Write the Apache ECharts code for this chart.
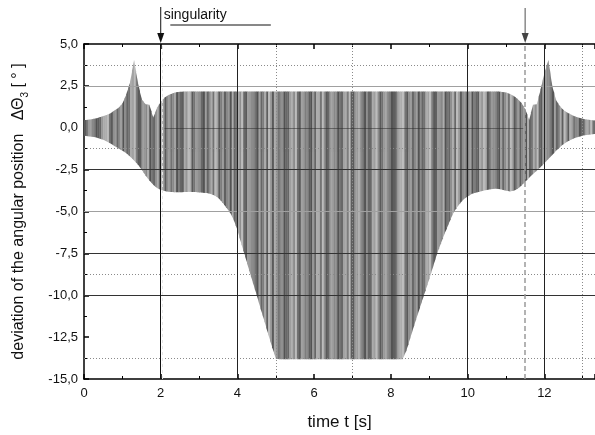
<!DOCTYPE html>
<html><head><meta charset="utf-8">
<script src="https://cdn.jsdelivr.net/npm/echarts@6/dist/echarts.min.js"></script>
<style>html,body{margin:0;padding:0;background:#fff}#c{width:595px;height:435px}</style>
</head><body><div id="c"></div><script>
// ---- data (time in s, envelope of the oscillation in degrees) ----
const timeS = [0.0,0.1,0.2,0.3,0.4,0.5,0.6,0.7,0.8,0.9,1.0,1.1,1.2,1.3,1.4,1.5,1.6,1.7,1.8,1.9,
2.0,2.1,2.2,2.3,2.4,2.5,2.6,2.7,2.8,2.9,3.0,3.1,3.2,3.3,3.4,3.5,3.6,3.7,3.8,3.9,
4.0,4.1,4.2,4.3,4.4,4.5,4.6,4.7,4.8,4.9,5.0,5.1,5.2,5.3,5.4,5.5,5.6,5.7,5.8,5.9,
6.0,6.1,6.2,6.3,6.4,6.5,6.6,6.7,6.8,6.9,7.0,7.1,7.2,7.3,7.4,7.5,7.6,7.7,7.8,7.9,
8.0,8.1,8.2,8.3,8.4,8.5,8.6,8.7,8.8,8.9,9.0,9.1,9.2,9.3,9.4,9.5,9.6,9.7,9.8,9.9,
10.0,10.1,10.2,10.3,10.4,10.5,10.6,10.7,10.8,10.9,11.0,11.1,11.2,11.3,11.4,11.5,11.6,11.7,11.8,11.9,
12.0,12.1,12.2,12.3,12.4,12.5,12.6,12.7,12.8,12.9,13.0,13.1,13.2,13.3];
const upperDeg = [0.46,0.48,0.51,0.55,0.62,0.70,0.77,0.88,1.05,1.20,1.45,2.00,2.75,4.05,2.70,1.70,1.40,1.38,0.60,1.20,
1.55,1.80,1.95,2.05,2.12,2.15,2.16,2.17,2.17,2.17,2.17,2.17,2.17,2.17,2.17,2.17,2.17,2.17,2.17,2.17,
2.17,2.17,2.17,2.17,2.17,2.17,2.17,2.17,2.17,2.17,2.17,2.17,2.17,2.17,2.17,2.17,2.17,2.17,2.17,2.17,
2.17,2.17,2.17,2.17,2.17,2.17,2.17,2.17,2.17,2.17,2.17,2.17,2.17,2.17,2.17,2.17,2.17,2.17,2.17,2.17,
2.17,2.17,2.17,2.17,2.17,2.17,2.17,2.17,2.17,2.17,2.17,2.17,2.17,2.17,2.17,2.17,2.17,2.17,2.17,2.17,
2.17,2.17,2.17,2.17,2.17,2.17,2.17,2.17,2.16,2.14,2.10,2.02,1.90,1.72,1.48,1.10,0.45,1.38,1.40,2.30,
3.30,4.05,2.50,1.65,1.28,1.05,0.90,0.77,0.67,0.59,0.53,0.49,0.46,0.43];
const lowerDeg = [-0.48,-0.50,-0.53,-0.57,-0.64,-0.72,-0.83,-0.96,-1.10,-1.24,-1.38,-1.52,-1.73,-1.95,-2.20,-2.50,-2.85,-3.15,-3.40,-3.60,
-3.72,-3.78,-3.82,-3.84,-3.85,-3.85,-3.84,-3.83,-3.83,-3.84,-3.86,-3.88,-3.90,-3.95,-4.05,-4.20,-4.45,-4.75,-5.05,-5.50,
-6.15,-6.95,-7.70,-8.50,-9.25,-10.00,-10.80,-11.55,-12.35,-13.10,-13.80,-13.82,-13.82,-13.82,-13.82,-13.82,-13.82,-13.82,-13.82,-13.82,
-13.82,-13.82,-13.82,-13.82,-13.82,-13.82,-13.82,-13.82,-13.82,-13.82,-13.82,-13.82,-13.82,-13.82,-13.82,-13.82,-13.82,-13.82,-13.82,-13.82,
-13.82,-13.82,-13.82,-13.82,-13.30,-12.55,-11.80,-11.10,-10.40,-9.70,-9.00,-8.25,-7.50,-6.90,-6.30,-5.75,-5.20,-4.80,-4.50,-4.25,
-4.10,-3.95,-3.88,-3.82,-3.76,-3.71,-3.67,-3.64,-3.65,-3.70,-3.76,-3.80,-3.76,-3.64,-3.45,-3.22,-2.98,-2.76,-2.56,-2.34,
-2.10,-1.86,-1.62,-1.38,-1.16,-0.97,-0.82,-0.70,-0.60,-0.53,-0.47,-0.43,-0.40,-0.38];
// tick labels
const xTickValues = [0,2,4,6,8,10,12];
const yTickValues = [5,2.5,0,-2.5,-5,-7.5,-10,-12.5,-15];
// reference lines of the original plot
const hLinesGray = [2.5,-5];
const hLinesBlack = [-2.5,-7.5,-10];
const hLinesDotted = [3.75,-1.25,-8.75,-13.75];
const vLinesBlack = [4,10,12];
const vLinesDotted = [5,7,13];
const singularityT = [2, 11.5];

const FONT = "'Liberation Sans', Arial, sans-serif";
const chart = echarts.init(document.getElementById('c'));
const pal = ['#8c8c8c','#727272','#a2a2a2','#7d7d7d','#5e5e5e','#979797','#adadad','#747474','#8f8f8f','#686868','#9e9e9e'];
const pal2 = ['#5a5a5a','#ababab','#535353','#9a9a9a','#bcbcbc','#666666','#888888'];
const data = timeS.map((t,i)=>[t, lowerDeg[i], upperDeg[i]]);
const N = timeS.length;

function mk(list, style){ return list.map(v=>Object.assign({}, v, {lineStyle: style})); }
const backLines = []
 .concat(mk(hLinesGray.map(v=>({yAxis:v})), {color:'#a0a0a0',width:1,type:'solid'}))
 .concat(mk(hLinesBlack.map(v=>({yAxis:v})), {color:'#333',width:1,type:'solid'}))
 .concat(mk(hLinesDotted.map(v=>({yAxis:v})), {color:'#8a8a8a',width:1,type:[1,2]}))
 .concat(mk(vLinesBlack.map(v=>({xAxis:v})), {color:'#222',width:1,type:'solid'}))
 .concat(mk(vLinesDotted.map(v=>({xAxis:v})), {color:'#8a8a8a',width:1,type:[1,2]}));
const frontLines = [
  {xAxis: singularityT[0], lineStyle:{color:'#111',width:1,type:'solid'}},
  {xAxis: singularityT[0]+0.04, lineStyle:{color:'#e6e6e6',width:1,type:[3,3]}},
  {xAxis: singularityT[1], lineStyle:{color:'#9a9a9a',width:1.5,type:[5,3]}},
  [{coord:[2.1,0], lineStyle:{color:'rgba(40,40,40,0.5)',width:1,type:'solid'}},{coord:[11.45,0]}]
];

const axisCommon = {
  type:'value', min:0, max:13.32, interval:2,
  axisLine:{show:true, onZero:false, lineStyle:{color:'#000', width:1.5}},
  axisTick:{show:true, inside:true, length:5, lineStyle:{color:'#000',width:1.5}},
  minorTick:{show:true, splitNumber:2, length:3, lineStyle:{color:'#000',width:1}},
  splitLine:{show:false}
};

chart.setOption({
  animation:false,
  grid:{left:84, right:0, top:44, bottom:56},
  xAxis:[
    Object.assign({}, axisCommon, {position:'bottom',
      axisLabel:{show:true, margin:8, fontSize:13, color:'#111', fontFamily:FONT, showMaxLabel:false,
        formatter:v=> xTickValues.indexOf(v)>=0 ? String(v) : ''}}),
    Object.assign({}, axisCommon, {position:'top', axisLabel:{show:false}})
  ],
  yAxis:{
    type:'value', min:-15, max:5, interval:2.5,
    axisLine:{show:true, onZero:false, lineStyle:{color:'#000', width:1.5}},
    axisTick:{show:true, inside:true, length:5, lineStyle:{color:'#000',width:1.5}},
    minorTick:{show:true, splitNumber:2, length:3, lineStyle:{color:'#000',width:1}},
    splitLine:{show:false},
    axisLabel:{fontSize:13, color:'#111', fontFamily:FONT, margin:6,
      formatter:v=> yTickValues.indexOf(v)>=0 ? v.toFixed(1).replace('.',',') : ''}
  },
  series:[
    {type:'line', data:[], z:1, silent:true,
      markLine:{silent:true, symbol:'none', animation:false, label:{show:false}, data:backLines}},
    {type:'custom', z:2, clip:true, silent:true, data:data,
      renderItem:function(params, api){
        const i = params.dataIndex;
        const t = api.value(0), lo = api.value(1), hi = api.value(2);
        // stripe spans half-way to each neighbour; edges follow straight segments between samples
        const tp = i>0 ? api.value(0, i-1) : t - (api.value(0, i+1) - t);
        const tn = i<N-1 ? api.value(0, i+1) : t + (t - api.value(0, i-1));
        const loP = i>0 ? (api.value(1, i-1)+lo)/2 : lo, hiP = i>0 ? (api.value(2, i-1)+hi)/2 : hi;
        const loN = i<N-1 ? (api.value(1, i+1)+lo)/2 : lo, hiN = i<N-1 ? (api.value(2, i+1)+hi)/2 : hi;
        const tL = (tp+t)/2, tR = (t+tn)/2;
        const a1 = api.coord([tL, hiP]), a2 = api.coord([tL, loP]);
        const m1 = api.coord([t, hi]), m2 = api.coord([t, lo]);
        const b1 = api.coord([tR, hiN]), b2 = api.coord([tR, loN]);
        const e = 0.35;
        return {type:'group', children:[
          {type:'polygon', shape:{points:[a1, [m1[0]+e, m1[1]], [m2[0]+e, m2[1]], a2]}, style:{fill:pal[i%pal.length]}},
          {type:'polygon', shape:{points:[m1, [b1[0]+e, b1[1]], [b2[0]+e, b2[1]], m2]}, style:{fill:pal2[(i*3)%pal2.length]}}
        ]};
      }},
    {type:'line', data:[], z:3, silent:true,
      markArea:{silent:true, itemStyle:{color:'rgba(0,0,0,0.12)'}, data:[[{coord:[2.15,0]},{coord:[8.75,-1.45]}]]},
      markLine:{silent:true, symbol:'none', animation:false, label:{show:false}, data:frontLines}}
  ]
});

// titles and arrows marking the singularities, positioned through the axis scale
const topY = chart.convertToPixel({yAxisIndex:0}, 5);
const botY = chart.convertToPixel({yAxisIndex:0}, -15);
const leftX = chart.convertToPixel({xAxisIndex:0}, 0);
const rightX = chart.convertToPixel({xAxisIndex:0}, 13.32);
const xa = chart.convertToPixel({xAxisIndex:0}, singularityT[0]);
const xb = chart.convertToPixel({xAxisIndex:0}, singularityT[1]);
const u1 = chart.convertToPixel({xAxisIndex:0}, 2.25);
const u2 = chart.convertToPixel({xAxisIndex:0}, 4.87);
chart.setOption({graphic:[
  {type:'text', x:19, y:(topY+botY)/2, rotation:Math.PI/2, silent:true,
    style:{text:'{a|deviation of the angular position}{a|   ΔΘ}{s|3}{a| [ ° ]}', align:'center', verticalAlign:'middle',
      rich:{a:{fontSize:16, fontWeight:'normal', fontFamily:FONT, fill:'#111', lineHeight:22, verticalAlign:'middle'},
            s:{fontSize:10, fontWeight:'normal', fontFamily:FONT, fill:'#111', lineHeight:22, verticalAlign:'bottom'}}}},
  {type:'text', x:(leftX+rightX)/2, y:422, silent:true,
    style:{text:'time t [s]', fontSize:17, fontWeight:'normal', fontFamily:FONT, fill:'#111', align:'center', verticalAlign:'middle'}},
  {type:'line', silent:true, shape:{x1:xa, y1:7, x2:xa, y2:topY-8}, style:{stroke:'#111', lineWidth:1}},
  {type:'polygon', silent:true, shape:{points:[[xa-3.5,topY-11],[xa+3.5,topY-11],[xa,topY-1]]}, style:{fill:'#111'}},
  {type:'text', silent:true, x:xa+3, y:15, style:{text:'singularity', fontSize:14, fontWeight:'normal', fontFamily:FONT, fill:'#111', align:'left', verticalAlign:'middle'}},
  {type:'line', silent:true, shape:{x1:u1, y1:25, x2:u2, y2:25}, style:{stroke:'#111', lineWidth:1}},
  {type:'line', silent:true, shape:{x1:xb, y1:8, x2:xb, y2:topY-8}, style:{stroke:'#8a8a8a', lineWidth:1.5}},
  {type:'polygon', silent:true, shape:{points:[[xb-3.5,topY-11],[xb+3.5,topY-11],[xb,topY-1]]}, style:{fill:'#444'}}
]});
</script></body></html>
